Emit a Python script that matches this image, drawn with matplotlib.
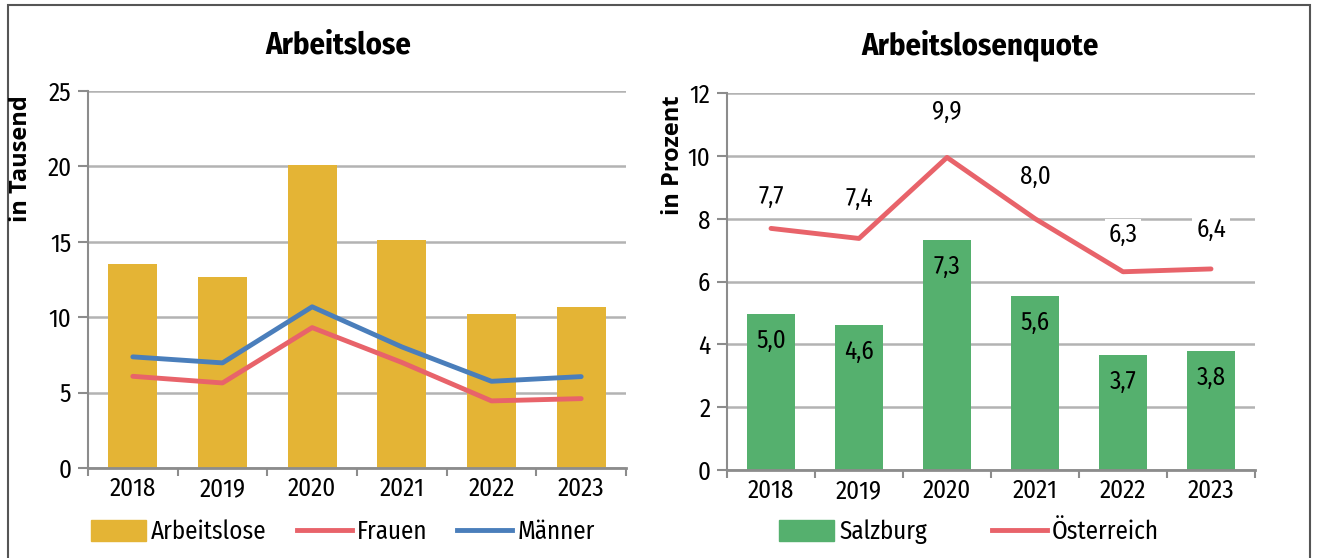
import matplotlib
matplotlib.use("Agg")
import matplotlib.pyplot as plt
from matplotlib.patches import Rectangle
from matplotlib.lines import Line2D
import numpy as np

years = ["2018", "2019", "2020", "2021", "2022", "2023"]
arbeitslose = [13.5, 12.65, 20.07, 15.11, 10.18, 10.69]
frauen = [6.08, 5.64, 9.31, 7.0, 4.45, 4.6]
maenner = [7.37, 6.97, 10.69, 8.03, 5.75, 6.06]
salzburg = [4.96, 4.62, 7.33, 5.54, 3.66, 3.79]
salzburg_labels = ["5,0", "4,6", "7,3", "5,6", "3,7", "3,8"]
oesterreich = [7.69, 7.37, 9.95, 8.0, 6.31, 6.4]
oesterreich_labels = ["7,7", "7,4", "9,9", "8,0", "6,3", "6,4"]
# vertical label offsets (pixels above the point)
oe_label_offsets = [32, 40, 46, 42, 37, 39]

GOLD = "#E4B435"
GREEN = "#55B06E"
RED = "#E8636A"
BLUE = "#4A7EBB"
GRID = "#b3b3b3"
AX = "#8c8c8c"

FONT = ['Fira Sans Condensed', 'DejaVu Sans']
plt.rcParams['font.family'] = FONT
FS = 18

W, H = 1319, 558
fig = plt.figure(figsize=(W / 100, H / 100), dpi=100)

def ax_rect(x0, x1, ytop, ybot):
    return [x0 / W, 1 - ybot / H, (x1 - x0) / W, (ybot - ytop) / H]

def style(ax, ymax, step):
    x = np.arange(len(years))
    ax.set_xlim(-0.5, len(years) - 0.5)
    ax.set_ylim(0, ymax)
    ax.set_yticks(np.arange(0, ymax + 0.01, step))
    ax.set_xticks(x)
    ax.set_xticklabels(years, fontsize=FS)
    ax.set_xticks(np.arange(-0.5, len(years), 1), minor=True)
    ax.tick_params(axis='x', which='major', length=0, pad=6)
    ax.tick_params(axis='x', which='minor', length=6, color=AX, width=1.5, direction='out')
    ax.tick_params(axis='y', length=7, color=AX, width=1.5, labelsize=FS, pad=5)
    ax.yaxis.grid(True, color=GRID, linewidth=1.8)
    ax.set_axisbelow(True)
    for s in ['top', 'right']:
        ax.spines[s].set_visible(False)
    ax.spines['left'].set_color(AX)
    ax.spines['left'].set_linewidth(1.5)
    ax.spines['bottom'].set_color(AX)
    ax.spines['bottom'].set_linewidth(2)

x = np.arange(len(years))

# Left chart
ax1 = fig.add_axes(ax_rect(88, 626, 91, 468))
ax1.bar(x, arbeitslose, width=0.55, color=GOLD, zorder=2)
ax1.plot(x, frauen, color=RED, linewidth=3.5, solid_capstyle='round', zorder=3)
ax1.plot(x, maenner, color=BLUE, linewidth=3.5, solid_capstyle='round', zorder=3)
style(ax1, 25, 5)
fig.text(21 / W, 1 - 95 / H, "in Tausend", fontsize=17, fontweight='bold',
         family=['Open Sans', 'DejaVu Sans'], rotation=90, ha='center', va='top')
fig.text(338 / W, 1 - 45 / H, "Arbeitslose", fontsize=22, fontweight='bold',
         ha='center', va='center')

# Right chart
ax2 = fig.add_axes(ax_rect(727, 1255, 93, 470))
ax2.bar(x, salzburg, width=0.55, color=GREEN, zorder=2)
ax2.plot(x, oesterreich, color=RED, linewidth=3.5, solid_capstyle='round', zorder=3)
style(ax2, 12, 2)
fig.text(673 / W, 1 - 95 / H, "in Prozent", fontsize=17, fontweight='bold',
         family=['Open Sans', 'DejaVu Sans'], rotation=90, ha='center', va='top')
fig.text(980 / W, 1 - 45 / H, "Arbeitslosenquote", fontsize=22, fontweight='bold',
         ha='center', va='center')
for xi, v, lab in zip(x, salzburg, salzburg_labels):
    ax2.annotate(lab, (xi, v), xytext=(0, -27), textcoords='offset pixels',
                 ha='center', va='center', fontsize=FS, zorder=4)
for xi, v, lab, off in zip(x, oesterreich, oesterreich_labels, oe_label_offsets):
    ax2.annotate(lab, (xi, v), xytext=(0, off), textcoords='offset pixels',
                 ha='center', va='center', fontsize=FS, zorder=4,
                 bbox=dict(boxstyle='square,pad=0.15', fc='white', ec='none'))

# Legends
h1 = [Rectangle((0, 0), 1, 1, color=GOLD),
      Line2D([0], [0], color=RED, lw=3.5),
      Line2D([0], [0], color=BLUE, lw=3.5)]
fig.legend(h1, ["Arbeitslose", "Frauen", "Männer"], loc='center',
           bbox_to_anchor=(343 / W, 1 - 532 / H), ncol=3, frameon=False,
           fontsize=FS, handlelength=2.2, handleheight=0.95, handletextpad=0.2,
           columnspacing=1.2, borderpad=0.1)
h2 = [Rectangle((0, 0), 1, 1, color=GREEN),
      Line2D([0], [0], color=RED, lw=3.5)]
fig.legend(h2, ["Salzburg", "Österreich"], loc='center',
           bbox_to_anchor=(969 / W, 1 - 532 / H), ncol=2, frameon=False,
           fontsize=FS, handlelength=2.2, handleheight=0.95, handletextpad=0.2,
           columnspacing=2.6, borderpad=0.1)

# Outer border
fig.patches.append(Rectangle((8 / W, -0.05), (1310 - 8) / W, 1.05 - 5 / H,
                             transform=fig.transFigure, fill=False,
                             edgecolor='#555555', linewidth=1.5))

fig.savefig("out.png", dpi=100)
